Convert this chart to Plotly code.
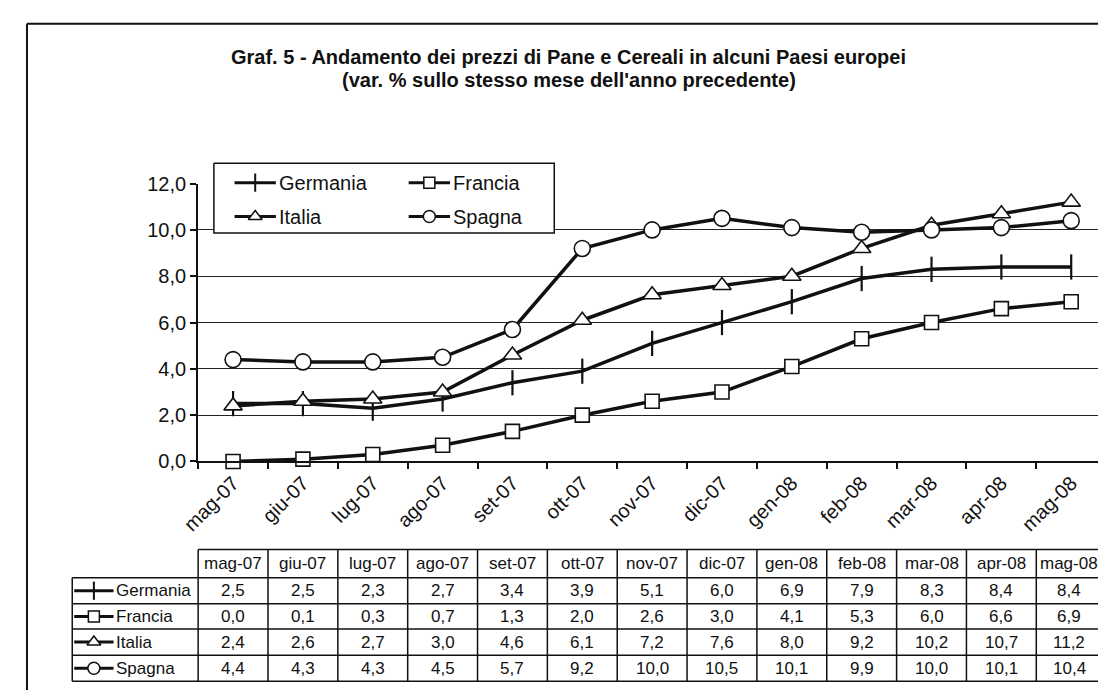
import plotly.graph_objects as go

# ---------------- data ----------------
months = ["mag-07", "giu-07", "lug-07", "ago-07", "set-07", "ott-07", "nov-07",
          "dic-07", "gen-08", "feb-08", "mar-08", "apr-08", "mag-08"]
germania = [2.5, 2.5, 2.3, 2.7, 3.4, 3.9, 5.1, 6.0, 6.9, 7.9, 8.3, 8.4, 8.4]
francia = [0.0, 0.1, 0.3, 0.7, 1.3, 2.0, 2.6, 3.0, 4.1, 5.3, 6.0, 6.6, 6.9]
italia = [2.4, 2.6, 2.7, 3.0, 4.6, 6.1, 7.2, 7.6, 8.0, 9.2, 10.2, 10.7, 11.2]
spagna = [4.4, 4.3, 4.3, 4.5, 5.7, 9.2, 10.0, 10.5, 10.1, 9.9, 10.0, 10.1, 10.4]
series_names = ["Germania", "Francia", "Italia", "Spagna"]
y_ticks = [0, 2, 4, 6, 8, 10, 12]
title_line1 = "Graf. 5 - Andamento dei prezzi di Pane e Cereali in alcuni Paesi europei"
title_line2 = "(var. % sullo stesso mese dell'anno precedente)"

# ---------------- styles ----------------
W, H = 1106, 693
OFF = 8  # default page body margin: figure is drawn 8px right/down in the page
FONT = "Liberation Sans, Arial, sans-serif"
BLACK = "#111111"
series_data = [germania, francia, italia, spagna]
symbols = {
    "Germania": dict(symbol="line-ns", size=18, line=dict(width=2.2, color=BLACK), color=BLACK),
    "Francia": dict(symbol="square", size=14, color="white", line=dict(width=1.6, color=BLACK)),
    "Italia": dict(symbol="triangle-up", size=16, color="white", line=dict(width=1.6, color=BLACK)),
    "Spagna": dict(symbol="circle", size=16, color="white", line=dict(width=1.6, color=BLACK)),
}
key_symbols = {
    "Germania": dict(symbol="line-ns", size=13, line=dict(width=2, color=BLACK), color=BLACK),
    "Francia": dict(symbol="square", size=11, color="white", line=dict(width=1.5, color=BLACK)),
    "Italia": dict(symbol="triangle-up", size=12, color="white", line=dict(width=1.5, color=BLACK)),
    "Spagna": dict(symbol="circle", size=12, color="white", line=dict(width=1.5, color=BLACK)),
}

# plot area in page pixels
PX_L, PX_R = 183, 1106
PY_T, PY_B = 178, 465


def fx(px):
    return (px - OFF) / W


def fy(py):
    return 1 - (py - OFF) / H


fig = go.Figure()

# main series
for name, vals in zip(series_names, series_data):
    fig.add_trace(go.Scatter(
        x=months, y=vals, name=name, mode="lines+markers",
        line=dict(color=BLACK, width=3.5),
        marker=symbols[name], showlegend=False,
        xaxis="x", yaxis="y", cliponaxis=False,
    ))

# ---------- overlay axis in page-pixel units (legend box, table keys) ----------
LEG_L, LEG_R, LEG_T, LEG_B = 199, 545, 157, 229
fig.add_trace(go.Scatter(
    x=[LEG_L, LEG_R, LEG_R, LEG_L, LEG_L], y=[LEG_T, LEG_T, LEG_B, LEG_B, LEG_T],
    mode="lines", fill="toself", fillcolor="white",
    line=dict(color=BLACK, width=1.5), showlegend=False, hoverinfo="skip",
    xaxis="x2", yaxis="y2",
))

annotations = []
leg_pos = {"Germania": (220, 177), "Francia": (397, 177), "Italia": (220, 212), "Spagna": (397, 212)}
for name in series_names:
    x0, yc = leg_pos[name]
    fig.add_trace(go.Scatter(
        x=[x0, x0 + 42], y=[yc, yc], mode="lines",
        line=dict(color=BLACK, width=3), showlegend=False, hoverinfo="skip",
        xaxis="x2", yaxis="y2"))
    fig.add_trace(go.Scatter(
        x=[x0 + 21], y=[yc], mode="markers", marker=key_symbols[name],
        showlegend=False, hoverinfo="skip", xaxis="x2", yaxis="y2"))
    annotations.append(dict(x=x0 + 43, y=yc, xref="x2", yref="y2", text=name,
                            showarrow=False, xanchor="left", yanchor="middle",
                            font=dict(family=FONT, size=20, color=BLACK)))

# ---------- data table ----------
n = len(months)
colw = (PX_R - PX_L) / n
TAB_L = 55
TAB_R = 1102
HEAD_T = 556
row_edges = [585, 612, 638, 665, 692]
shapes = []
LW = 1.5
shapes.append(dict(type="line", xref="paper", yref="paper", x0=fx(PX_L), x1=fx(TAB_R),
                   y0=fy(HEAD_T), y1=fy(HEAD_T), line=dict(color=BLACK, width=LW)))
for r in row_edges:
    shapes.append(dict(type="line", xref="paper", yref="paper", x0=fx(TAB_L), x1=fx(TAB_R),
                       y0=fy(r), y1=fy(r), line=dict(color=BLACK, width=LW)))
shapes.append(dict(type="line", xref="paper", yref="paper", x0=fx(TAB_L), x1=fx(TAB_L),
                   y0=fy(row_edges[0]), y1=fy(row_edges[-1]), line=dict(color=BLACK, width=LW)))
col_edges = [PX_L + k * colw for k in range(n)] + [TAB_R]
for xk in col_edges:
    shapes.append(dict(type="line", xref="paper", yref="paper", x0=fx(xk), x1=fx(xk),
                       y0=fy(HEAD_T), y1=fy(row_edges[-1]), line=dict(color=BLACK, width=LW)))

for k, m in enumerate(months):
    xc = (col_edges[k] + col_edges[k + 1]) / 2
    annotations.append(dict(x=xc, y=(HEAD_T + row_edges[0]) / 2, xref="x2", yref="y2", text=m,
                            showarrow=False, xanchor="center", yanchor="middle",
                            font=dict(family=FONT, size=17, color=BLACK)))
    for i, vals in enumerate(series_data):
        yc = (row_edges[i] + row_edges[i + 1]) / 2
        annotations.append(dict(x=xc, y=yc, xref="x2", yref="y2",
                                text=f"{vals[k]:.1f}".replace(".", ","),
                                showarrow=False, xanchor="center", yanchor="middle",
                                font=dict(family=FONT, size=17, color=BLACK)))

for i, name in enumerate(series_names):
    yc = (row_edges[i] + row_edges[i + 1]) / 2
    fig.add_trace(go.Scatter(
        x=[TAB_L + 2, TAB_L + 42], y=[yc, yc], mode="lines",
        line=dict(color=BLACK, width=3), showlegend=False, hoverinfo="skip",
        xaxis="x2", yaxis="y2"))
    fig.add_trace(go.Scatter(
        x=[TAB_L + 22], y=[yc], mode="markers", marker=key_symbols[name],
        showlegend=False, hoverinfo="skip", xaxis="x2", yaxis="y2"))
    annotations.append(dict(x=TAB_L + 42, y=yc, xref="x2", yref="y2", text=name,
                            showarrow=False, xanchor="left", yanchor="middle",
                            font=dict(family=FONT, size=17, color=BLACK)))

# title
annotations.append(dict(x=fx(559), y=fy(47), xref="paper", yref="paper", text=f"<b>{title_line1}</b>",
                        showarrow=False, xanchor="center", yanchor="middle",
                        font=dict(family=FONT, size=20, color=BLACK)))
annotations.append(dict(x=fx(560), y=fy(71), xref="paper", yref="paper", text=f"<b>{title_line2}</b>",
                        showarrow=False, xanchor="center", yanchor="middle",
                        font=dict(family=FONT, size=20, color=BLACK)))

# outer frame
shapes.append(dict(type="line", xref="paper", yref="paper", x0=fx(9), x1=1, y0=fy(13), y1=fy(13),
                   line=dict(color=BLACK, width=2)))
shapes.append(dict(type="line", xref="paper", yref="paper", x0=fx(9), x1=fx(9), y0=fy(13), y1=0,
                   line=dict(color=BLACK, width=2)))

fig.update_layout(
    width=W, height=H, autosize=False,
    margin=dict(l=0, r=0, t=0, b=0),
    paper_bgcolor="white", plot_bgcolor="rgba(0,0,0,0)",
    separators=",.",
    showlegend=False,
    font=dict(family=FONT, color=BLACK),
    xaxis=dict(
        domain=[fx(PX_L), fx(PX_R)], type="category", categoryorder="array", categoryarray=months,
        range=[-0.5, n - 0.5], tickson="boundaries", ticks="outside", ticklen=6,
        tickcolor=BLACK, tickwidth=1.5, showline=True, linecolor=BLACK, linewidth=2,
        showgrid=False, tickangle=-45, tickfont=dict(family=FONT, size=20, color=BLACK),
        anchor="y", fixedrange=True,
    ),
    yaxis=dict(
        domain=[fy(PY_B), fy(PY_T)], range=[0, 12], tickvals=y_ticks, tickformat=".1f",
        showgrid=True, gridcolor="#222222", gridwidth=1.3, zeroline=False,
        showline=True, linecolor=BLACK, linewidth=2, ticks="outside", ticklen=6,
        tickcolor=BLACK, tickwidth=1.5, tickfont=dict(family=FONT, size=20, color=BLACK),
        anchor="x", fixedrange=True,
    ),
    xaxis2=dict(domain=[0, 1], range=[OFF, W + OFF], visible=False, anchor="y2", fixedrange=True),
    yaxis2=dict(domain=[0, 1], range=[H + OFF, OFF], visible=False, anchor="x2", fixedrange=True),
    shapes=shapes,
    annotations=annotations,
)

fig.write_html("out.html")
